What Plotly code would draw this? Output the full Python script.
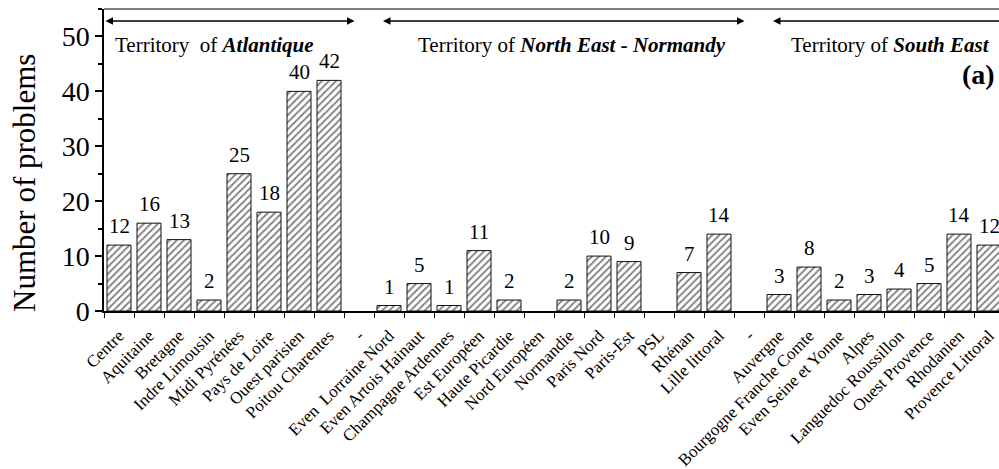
import plotly.graph_objects as go

categories = ["Centre", "Aquitaine", "Bretagne", "Indre Limousin", "Midi Pyrénées",
              "Pays de Loire", "Ouest parisien", "Poitou Charentes", "-",
              "Even  Lorraine Nord", "Even Artois Hainaut", "Champagne Ardennes",
              "Est Européen", "Haute Picardie", "Nord Européen", "Normandie",
              "Paris Nord", "Paris-Est", "PSL", "Rhénan", "Lille littoral", "-",
              "Auvergne", "Bourgogne Franche Comte", "Even Seine et Yonne", "Alpes",
              "Languedoc Roussillon", "Ouest Provence", "Rhodanien", "Provence Littoral"]
problems = [12, 16, 13, 2, 25, 18, 40, 42, None,
            1, 5, 1, 11, 2, 0, 2, 10, 9, 0, 7, 14, None,
            3, 8, 2, 3, 4, 5, 14, 12]

territories = ["Atlantique", "North East - Normandy", "South East"]
territory_first = [0, 9, 22]
territory_last = [7, 20, 29]

FONT = "Liberation Serif, Times New Roman, serif"
n = len(categories)
xs = list(range(n))
outline = [0 if not v else 1 for v in problems]

fig = go.Figure()
fig.add_trace(go.Bar(
    x=xs, y=problems, width=0.8,
    marker=dict(color="white", line=dict(color="#111111", width=outline),
                pattern=dict(shape="/", fgcolor="black", bgcolor="white", size=5, solidity=0.35)),
    cliponaxis=True, hoverinfo="skip"))

# value labels above the bars
for x, v in zip(xs, problems):
    if v:
        fig.add_annotation(x=x, y=v, xref="x", yref="y", text=str(v), showarrow=False,
                           yanchor="bottom", yshift=5,
                           font=dict(family=FONT, size=21, color="black"))

fig.update_layout(
    width=999, height=469,
    margin=dict(l=104, r=0, t=9, b=158),
    plot_bgcolor="white", paper_bgcolor="white",
    showlegend=False, bargap=0.2,
    font=dict(family=FONT, color="black"),
)
fig.update_xaxes(
    range=[-0.5, -0.5 + 895 / 30],
    tickmode="array", tickvals=xs, ticktext=categories, tickangle=-45,
    tickfont=dict(family=FONT, size=17, color="black"),
    ticks="", ticklabelstandoff=6, showgrid=False, zeroline=False,
    showline=True, linecolor="black", linewidth=2,
    minor=dict(tickmode="array", tickvals=[i - 0.5 for i in range(n + 1)],
               ticks="outside", ticklen=5, tickcolor="black", tickwidth=1, showgrid=False),
)
fig.update_yaxes(
    range=[0, 55], tickvals=[0, 10, 20, 30, 40, 50],
    ticks="outside", ticklen=7, tickwidth=1.5, tickcolor="black",
    tickfont=dict(family=FONT, size=28, color="black"),
    showgrid=False, zeroline=False, showline=True, linecolor="black", linewidth=1.5,
    minor=dict(dtick=5, ticks="outside", ticklen=4, tickcolor="black", showgrid=False),
)

# y-axis title (placed like the reference, slightly below the plot centre)
fig.add_annotation(x=0, y=0.424, xref="paper", yref="paper", xshift=-79,
                   xanchor="center", yanchor="middle", textangle=-90,
                   text="Number of problems", showarrow=False,
                   font=dict(family=FONT, size=31, color="black"))

# top frame line
fig.add_shape(type="line", xref="paper", yref="paper", x0=0, x1=1, y0=1, y1=1,
              line=dict(color="black", width=1))

arrow_y = 52.8
text_y = 48.4
for i, (name, a, b) in enumerate(zip(territories, territory_first, territory_last)):
    start = -0.5 if a == 0 else a - 0.25
    end = b + 0.85
    fig.add_annotation(x=end, y=arrow_y, ax=start, ay=arrow_y, xref="x", yref="y",
                       axref="x", ayref="y", text="", showarrow=True,
                       arrowhead=2, arrowside="end+start", arrowsize=1, arrowwidth=1.5,
                       arrowcolor="black")
    if a == 0:
        fig.add_annotation(x=-0.2, y=text_y, xref="x", yref="y", xanchor="left",
                           text="Territory  of <b><i>%s</i></b>" % name, showarrow=False,
                           font=dict(family=FONT, size=21, color="black"))
    else:
        fig.add_annotation(x=(a + b) / 2 + (0.6 if i == 1 else 0.2), y=text_y, xref="x", yref="y",
                           xanchor="center",
                           text="Territory of <b><i>%s</i></b>" % name, showarrow=False,
                           font=dict(family=FONT, size=21, color="black"))

fig.add_annotation(x=0.998, y=43, xref="paper", yref="y", xanchor="right",
                   text="<b>(a)</b>", showarrow=False,
                   font=dict(family=FONT, size=28, color="black"))

fig.write_html("out.html", config={"displayModeBar": False},
               post_script="document.body.style.margin='0';document.body.style.overflow='hidden';")
